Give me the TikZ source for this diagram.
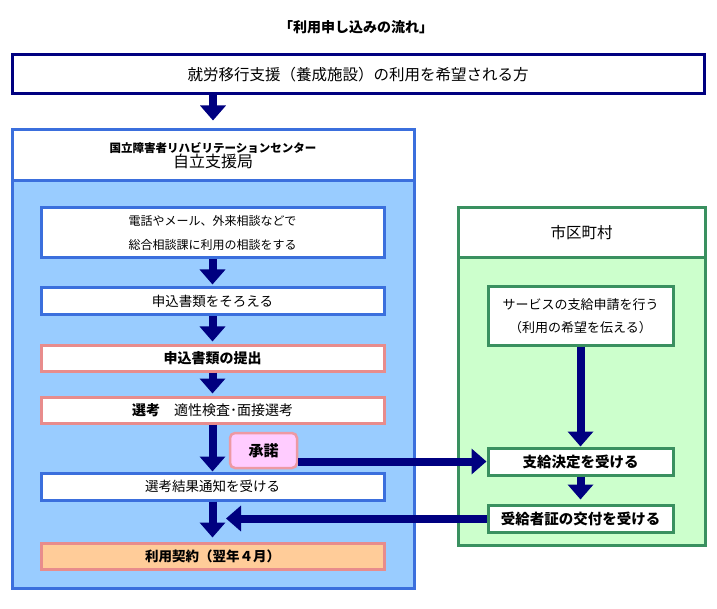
\documentclass[tikz,border=0pt]{standalone}
\usepackage{fontspec}
\setmainfont{Noto Sans CJK JP}
\usetikzlibrary{arrows.meta, positioning, calc}
\usepackage{xcolor}
\definecolor{Navy}{HTML}{000080}
\definecolor{EdgeB}{HTML}{3B6FDD}
\definecolor{EdgeR}{HTML}{E88C8C}
\definecolor{EdgeG}{HTML}{3A9060}
\definecolor{SkyA}{HTML}{99CCFF}
\definecolor{MintA}{HTML}{CCFFCC}
\definecolor{RoseA}{HTML}{FFCCFF}
\definecolor{PeachA}{HTML}{FFCC99}
\tikzset{
  tbox/.style={draw=Navy, line width=3pt, fill=white, minimum width=692pt,
    minimum height=39pt, inner sep=0pt, font=\fontsize{15.5}{18}\selectfont},
  lpanel/.style={draw=EdgeB, line width=3pt, minimum width=402pt, inner sep=0pt},
  rpanel/.style={draw=EdgeG, line width=3pt, minimum width=247pt, inner sep=0pt},
  bbox/.style={draw=EdgeB, line width=3pt, fill=white, minimum width=343pt,
    inner sep=0pt, align=center, font=\fontsize{13.5}{24}\selectfont},
  kbox/.style={draw=EdgeR, line width=3pt, fill=white, minimum width=343pt,
    inner sep=0pt, align=center, font=\fontsize{14}{16}\selectfont},
  gbox/.style={draw=EdgeG, line width=3pt, fill=white, minimum width=185pt,
    inner sep=0pt, align=center, font=\fontsize{13}{23}\selectfont},
  okbox/.style={draw=EdgeR!80!RoseA, line width=2.5pt, fill=RoseA, rounded corners=5pt,
    minimum width=67pt, minimum height=35pt, inner sep=0pt,
    font=\fontsize{15}{17}\selectfont\bfseries},
  flow/.style={-{Triangle[length=15pt, width=25pt]}, line width=8pt, draw=Navy},
}
\begin{document}
\begin{tikzpicture}[x=1pt, y=-1pt]
    \useasboundingbox (0,0) rectangle (717,609);
    \node[font=\fontsize{14}{16}\selectfont\bfseries] (title) at (356,27) {「利用申し込みの流れ」};
    \node[tbox] (who) at (358,74.5) {就労移行支援（養成施設）の利用を希望される方};
    \node[lpanel, fill=SkyA, minimum height=407pt] (lbody) at (213,384.5) {};
    \node[lpanel, fill=white, minimum height=51pt, align=center] (lhead) at (213,155.5)
      {{\fontsize{11.5}{13}\selectfont\bfseries 国立障害者リハビリテーションセンター}\\
       {\fontsize{16}{19}\selectfont 自立支援局}};
    \node[rpanel, fill=MintA, minimum height=287pt] (rbody) at (581.5,401.5) {};
    \node[rpanel, fill=white, minimum height=50pt, font=\fontsize{15.5}{17}\selectfont] (rhead) at (581.5,233) {市区町村};
    \node[bbox, minimum height=50pt, font=\fontsize{12}{24}\selectfont] (b1) at (212.5,233)
      {電話やメール、外来相談などで\\総合相談課に利用の相談をする};
    \node[bbox, minimum height=27pt] (b2) at (212.5,301.5) {申込書類をそろえる};
    \node[kbox, minimum height=26pt] (b3) at (212.5,358) {\bfseries 申込書類の提出};
    \node[kbox, minimum height=26pt] (b4) at (212.5,410) {\textbf{選考}\hspace{1em}適性検査･面接選考};
    \node[okbox] (ok) at (263.5,450.5) {承諾};
    \node[bbox, minimum height=27pt] (b5) at (212.5,486.5) {選考結果通知を受ける};
    \node[kbox, fill=PeachA, minimum height=26pt, font=\fontsize{13.5}{16}\selectfont\bfseries] (b6) at (212.5,556) {利用契約（翌年４月）};
    \node[gbox, minimum height=58pt] (r1) at (580.5,316) {サービスの支給申請を行う\\（利用の希望を伝える）};
    \node[gbox, minimum height=27pt, font=\fontsize{14.5}{17}\selectfont\bfseries] (r2) at (580.5,461.5) {支給決定を受ける};
    \node[gbox, minimum height=27pt, font=\fontsize{14.5}{17}\selectfont\bfseries] (r3) at (580.5,518.5) {受給者証の交付を受ける};
    \coordinate (merge) at ($(b5.south |- r3.west)+(13.5,0)$);
    \draw[flow, shorten >=8pt] (lhead.north |- who.south) -- (lhead.north);
    \draw[flow, shorten >=2pt] (b1.south) -- (b2.north);
    \draw[flow, shorten >=2pt] (b2.south) -- (b3.north);
    \draw[flow, shorten >=2pt] (b3.south) -- (b4.north);
    \draw[flow] (b4.south) -- (b5.north);
    \draw[flow, shorten >=4pt] (b5.south) -- (b6.north);
    \draw[flow] (r1.south) -- (r2.north);
    \draw[flow, shorten >=4pt] (r2.south) -- (r3.north);
    \draw[flow] (ok.east |- r2.west) -- (r2.west);
    \draw[flow] (r3.west) -- (merge);
\end{tikzpicture}
\end{document}
